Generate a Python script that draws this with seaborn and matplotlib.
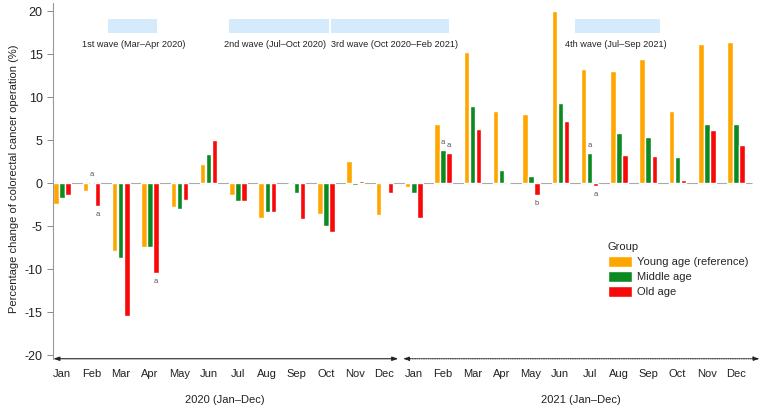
import matplotlib
matplotlib.use("Agg")
import matplotlib.pyplot as plt
from matplotlib.patches import Rectangle
from matplotlib.transforms import blended_transform_factory
import numpy as np
import pandas as pd
import seaborn as sns

# ---- data ----
months = ["Jan", "Feb", "Mar", "Apr", "May", "Jun", "Jul", "Aug", "Sep", "Oct", "Nov", "Dec"]
years = ["2020", "2021"]
groups = ["Young age (reference)", "Middle age", "Old age"]
colors = ["#ffa500", "#0b8a22", "#f80808"]

young = [-2.4, -0.9, -7.9, -7.4, -2.8, 2.2, -1.3, -4.0, 0.0, -3.6, 2.6, -3.7,
         -0.4, 6.9, 15.3, 8.4, 8.1, 20.0, 13.3, 13.1, 14.5, 8.4, 16.2, 16.4]
middle = [-1.7, 0.1, -8.7, -7.4, -3.0, 3.4, -2.1, -3.3, -1.1, -4.9, -0.2, -0.1,
          -1.1, 3.9, 9.0, 1.6, 0.85, 9.3, 3.5, 5.9, 5.4, 3.1, 6.9, 6.9]
old = [-1.3, -2.6, -15.4, -10.4, -1.9, 5.1, -2.1, -3.3, -4.1, -5.7, 0.3, -1.1,
       -4.0, 3.5, 6.3, 0.1, -1.3, 7.2, -0.3, 3.3, 3.2, 0.4, 6.2, 4.5]

# significance letters: (month index, group index, letter, above?)
notes = [(1, 1, "a", True), (1, 2, "a", False), (3, 2, "a", False),
         (13, 1, "a", True), (13, 2, "a", True), (16, 2, "b", False),
         (18, 1, "a", True), (18, 2, "a", False)]

# wave periods (in month index units)
wave_labels = ["1st wave (Mar\u2013Apr 2020)", "2nd wave (Jul\u2013Oct 2020)",
               "3rd wave (Oct 2020\u2013Feb 2021)", "4th wave (Jul\u2013Sep 2021)"]
wave_start = [1.57, 5.7, 9.18, 17.5]
wave_end = [3.24, 9.11, 13.2, 20.4]
wave_text_x = [2.43, 7.25, 11.35, 18.9]

# ---- build long table ----
keys = [f"{y}-{m}" for y in years for m in months]
df = pd.DataFrame({
    "key": keys * 3,
    "group": np.repeat(groups, len(keys)),
    "value": young + middle + old,
})

sns.set_style("white")
plt.rcParams["font.family"] = ["Liberation Sans", "DejaVu Sans"]
plt.rcParams["axes.unicode_minus"] = False

fig = plt.figure(figsize=(7.62, 4.07), dpi=100)
ax = fig.add_axes([0.0696, 0.127, 0.928, 0.866])

sns.barplot(data=df, x="key", y="value", hue="group", order=keys, hue_order=groups,
            palette=colors, width=0.62, gap=0.1, ax=ax, saturation=1)

ax.set_xlim(-0.31, 23.82)
ax.set_ylim(-20, 21)
ax.set_yticks(np.arange(-20, 21, 5))
ax.set_xticks(range(len(keys)))
ax.set_xticklabels(months * 2)
ax.tick_params(axis="x", length=0, pad=10, labelsize=8, colors="#222222")
ax.tick_params(axis="y", length=4, width=0.7, color="#888888", labelsize=9, colors="#222222",
               direction="out", left=True)
ax.set_xlabel("")
ax.set_ylabel("Percentage change of colorectal cancer operation (%)", fontsize=8,
              color="#222222", labelpad=4)
for side in ["top", "right", "bottom"]:
    ax.spines[side].set_visible(False)
ax.spines["left"].set_color("#999999")
ax.spines["left"].set_linewidth(0.8)
ax.spines["left"].set_bounds(-20.4, 21)

ax.hlines(0, -0.31, 23.55, color="#aaaaaa", lw=0.8, zorder=0)

# significance letters
for m, g, letter, above in notes:
    bar = ax.containers[g][m]
    cx = bar.get_x() + bar.get_width() / 2
    top = max(bar.get_y(), bar.get_y() + bar.get_height())
    bot = min(bar.get_y(), bar.get_y() + bar.get_height())
    if above:
        ax.text(cx, top + 0.9, letter, ha="center", va="center", fontsize=5.5, color="#555555")
    else:
        ax.text(cx, bot - 1.0, letter, ha="center", va="center", fontsize=5.5, color="#555555")

# wave bands
for lab, s, e, tx in zip(wave_labels, wave_start, wave_end, wave_text_x):
    ax.add_patch(Rectangle((s, 17.5), e - s, 1.6, color="#d5eafa", lw=0, zorder=0))
    ax.text(tx, 16.1, lab, ha="center", va="center", fontsize=6.6, color="#222222")

# year arrows along the bottom
ax.annotate("", xy=(-0.3, -20.4), xytext=(11.47, -20.4), annotation_clip=False,
            arrowprops=dict(arrowstyle="<|-|>,head_length=0.35,head_width=0.12",
                            color="#222222", lw=0.8, shrinkA=0, shrinkB=0))
ax.annotate("", xy=(11.63, -20.4), xytext=(23.8, -20.4), annotation_clip=False,
            arrowprops=dict(arrowstyle="<|-|>,head_length=0.35,head_width=0.12",
                            color="#222222", lw=0.8, ls=(0, (1, 1)), shrinkA=0, shrinkB=0))

trans = blended_transform_factory(ax.transData, ax.transAxes)
ax.text(5.56, -0.127, "2020 (Jan\u2013Dec)", transform=trans, ha="center", va="center",
        fontsize=8, color="#222222")
ax.text(17.7, -0.127, "2021 (Jan\u2013Dec)", transform=trans, ha="center", va="center",
        fontsize=8, color="#222222")

leg = ax.legend(title="Group", loc="upper left", bbox_to_anchor=(598 / 762, 1 - 232 / 407),
                bbox_transform=fig.transFigure, frameon=False, fontsize=8, title_fontsize=8,
                handlelength=2.2, handleheight=1.1, labelspacing=0.35, handletextpad=0.4,
                alignment="left")

fig.savefig("out.png", dpi=100)
